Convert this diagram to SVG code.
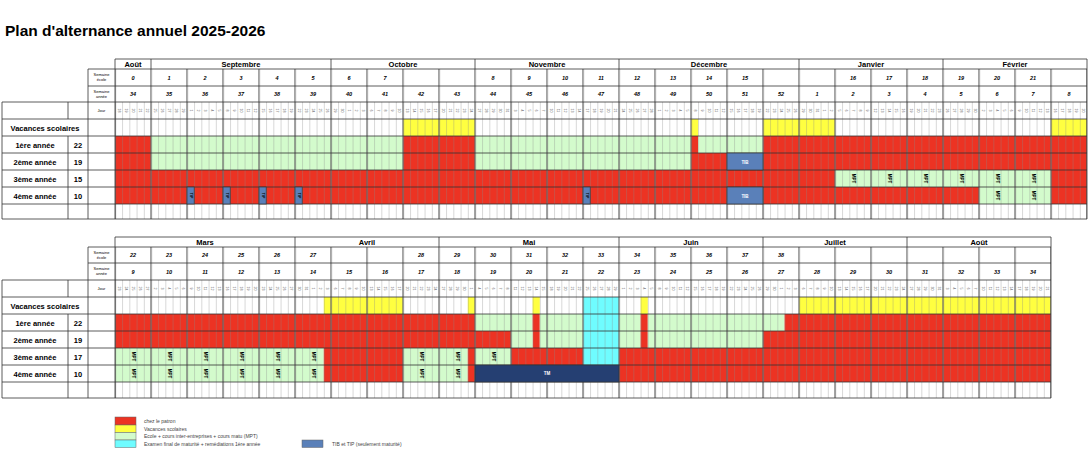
<svg xmlns="http://www.w3.org/2000/svg" width="1090" height="453" viewBox="0 0 1090 453">
<style>
text{font-family:"Liberation Sans",Arial,sans-serif;fill:#000}
.r{fill:#ec3323}.y{fill:#ffff40}.g{fill:#d3fbcc}.c{fill:#6ffcff}
.b{fill:#5a80b9;stroke:#333;stroke-width:.7}.m{fill:#253f72;stroke:#333;stroke-width:.7}
.h line,.h path{stroke:#333;stroke-width:.8;fill:none}
.d text{font-size:3.6px;text-anchor:middle;writing-mode:vertical-rl;fill:#555}
.w text{font-size:5.5px;font-style:italic;font-weight:bold;text-anchor:middle}
.mo{font-size:7.5px;font-weight:bold;text-anchor:middle}
.s{font-size:4px;text-anchor:middle}
.lb{font-size:7.5px;font-weight:bold;text-anchor:middle}
.v{font-size:4.5px;font-weight:bold;text-anchor:middle;writing-mode:vertical-rl}
.wt{font-size:4.5px;font-weight:bold;text-anchor:middle;fill:#fff}
.lg{font-size:5px;fill:#444}
</style>
<defs>
<pattern id="dl" patternUnits="userSpaceOnUse" x="115" y="0" width="7.2" height="453"><line x1="0" y1="0" x2="0" y2="453" stroke="#888" stroke-width=".7"/></pattern>
<pattern id="wl" patternUnits="userSpaceOnUse" x="114.4" y="0" width="36" height="453"><line x1=".6" y1="0" x2=".6" y2="453" stroke="#666" stroke-width="1.2"/></pattern>
</defs>
<text x="5" y="36" font-size="15.5" font-weight="bold">Plan d'alternance annuel 2025-2026</text>

<g id="top-fills">
<rect class="y" x="403" y="119" width="72" height="17"/><rect class="y" x="691" y="119" width="7.2" height="17"/><rect class="y" x="763" y="119" width="72" height="17"/><rect class="y" x="1051" y="119" width="36" height="17"/>
<rect class="r" x="115" y="136" width="36" height="17"/><rect class="g" x="151" y="136" width="252" height="17"/><rect class="r" x="403" y="136" width="72" height="17"/><rect class="g" x="475" y="136" width="216" height="17"/><rect class="r" x="691" y="136" width="7.2" height="17"/><rect class="g" x="698.2" y="136" width="64.8" height="17"/><rect class="r" x="763" y="136" width="324" height="17"/>
<rect class="r" x="115" y="153" width="36" height="17"/><rect class="g" x="151" y="153" width="252" height="17"/><rect class="r" x="403" y="153" width="72" height="17"/><rect class="g" x="475" y="153" width="216" height="17"/><rect class="r" x="691" y="153" width="396" height="17"/>
<rect class="r" x="115" y="170" width="720" height="17"/><rect class="g" x="835" y="170" width="216" height="17"/><rect class="r" x="1051" y="170" width="36" height="17"/>
<rect class="r" x="115" y="187" width="972" height="17"/><rect class="g" x="979" y="187" width="72" height="17"/>
</g>
<g id="top-grid">
<rect x="115" y="102" width="972" height="117" fill="url(#dl)"/>
<rect x="115" y="69" width="972" height="150" fill="url(#wl)"/>
<g class="h">
<path d="M115 59H1087M88 69H1087M88 86H1087M2 102H1087M2 119H1087M2 136H1087M2 153H1087M2 170H1087M2 187H1087M2 204H1087M2 219H1087"/>
<path d="M2 102V219M68 102V119M68 136V219M88 69V219M115 59V219M1087 59V219M151 59V69M331 59V69M475 59V69M619 59V69M799 59V69M943 59V69"/>
</g>
<rect class="b" x="187" y="187" width="7.2" height="17"/><rect class="b" x="223" y="187" width="7.2" height="17"/><rect class="b" x="259" y="187" width="7.2" height="17"/><rect class="b" x="295" y="187" width="7.2" height="17"/><rect class="b" x="583" y="187" width="7.2" height="17"/>
<rect class="b" x="727" y="153" width="36" height="17"/><rect class="b" x="727" y="187" width="36" height="17"/>
</g>
<g id="top-text">
<text class="mo" y="67"><tspan x="133">Août</tspan><tspan x="241">Septembre</tspan><tspan x="403">Octobre</tspan><tspan x="547">Novembre</tspan><tspan x="709">Décembre</tspan><tspan x="871">Janvier</tspan><tspan x="1015">Février</tspan></text>
<text class="s"><tspan x="101.5" y="76">Semaine</tspan><tspan x="101.5" y="81">école</tspan><tspan x="101.5" y="93">Semaine</tspan><tspan x="101.5" y="98">année</tspan><tspan x="101.5" y="112">Jour</tspan></text>
<g class="w" transform="translate(0,80)"><text x="133">0</text><text x="169">1</text><text x="205">2</text><text x="241">3</text><text x="277">4</text><text x="313">5</text><text x="349">6</text><text x="385">7</text><text x="493">8</text><text x="529">9</text><text x="565">10</text><text x="601">11</text><text x="637">12</text><text x="673">13</text><text x="709">14</text><text x="745">15</text><text x="853">16</text><text x="889">17</text><text x="925">18</text><text x="961">19</text><text x="997">20</text><text x="1033">21</text></g>
<g class="w" transform="translate(0,96)"><text x="133">34</text><text x="169">35</text><text x="205">36</text><text x="241">37</text><text x="277">38</text><text x="313">39</text><text x="349">40</text><text x="385">41</text><text x="421">42</text><text x="457">43</text><text x="493">44</text><text x="529">45</text><text x="565">46</text><text x="601">47</text><text x="637">48</text><text x="673">49</text><text x="709">50</text><text x="745">51</text><text x="781">52</text><text x="817">1</text><text x="853">2</text><text x="889">3</text><text x="925">4</text><text x="961">5</text><text x="997">6</text><text x="1033">7</text><text x="1069">8</text></g>
<g class="d" transform="translate(0,110.5)">
<text x="118.6">18</text><text x="125.8">19</text><text x="133">20</text><text x="140.2">21</text><text x="147.4">22</text>
<text x="154.6">25</text><text x="161.8">26</text><text x="169">27</text><text x="176.2">28</text><text x="183.4">29</text>
<text x="190.6">1</text><text x="197.8">2</text><text x="205">3</text><text x="212.2">4</text><text x="219.4">5</text>
<text x="226.6">8</text><text x="233.8">9</text><text x="241">10</text><text x="248.2">11</text><text x="255.4">12</text>
<text x="262.6">15</text><text x="269.8">16</text><text x="277">17</text><text x="284.2">18</text><text x="291.4">19</text>
<text x="298.6">22</text><text x="305.8">23</text><text x="313">24</text><text x="320.2">25</text><text x="327.4">26</text>
<text x="334.6">29</text><text x="341.8">30</text><text x="349">1</text><text x="356.2">2</text><text x="363.4">3</text>
<text x="370.6">6</text><text x="377.8">7</text><text x="385">8</text><text x="392.2">9</text><text x="399.4">10</text>
<text x="406.6">13</text><text x="413.8">14</text><text x="421">15</text><text x="428.2">16</text><text x="435.4">17</text>
<text x="442.6">20</text><text x="449.8">21</text><text x="457">22</text><text x="464.2">23</text><text x="471.4">24</text>
<text x="478.6">27</text><text x="485.8">28</text><text x="493">29</text><text x="500.2">30</text><text x="507.4">31</text>
<text x="514.6">3</text><text x="521.8">4</text><text x="529">5</text><text x="536.2">6</text><text x="543.4">7</text>
<text x="550.6">10</text><text x="557.8">11</text><text x="565">12</text><text x="572.2">13</text><text x="579.4">14</text>
<text x="586.6">17</text><text x="593.8">18</text><text x="601">19</text><text x="608.2">20</text><text x="615.4">21</text>
<text x="622.6">24</text><text x="629.8">25</text><text x="637">26</text><text x="644.2">27</text><text x="651.4">28</text>
<text x="658.6">1</text><text x="665.8">2</text><text x="673">3</text><text x="680.2">4</text><text x="687.4">5</text>
<text x="694.6">8</text><text x="701.8">9</text><text x="709">10</text><text x="716.2">11</text><text x="723.4">12</text>
<text x="730.6">15</text><text x="737.8">16</text><text x="745">17</text><text x="752.2">18</text><text x="759.4">19</text>
<text x="766.6">22</text><text x="773.8">23</text><text x="781">24</text><text x="788.2">25</text><text x="795.4">26</text>
<text x="802.6">29</text><text x="809.8">30</text><text x="817">31</text><text x="824.2">1</text><text x="831.4">2</text>
<text x="838.6">5</text><text x="845.8">6</text><text x="853">7</text><text x="860.2">8</text><text x="867.4">9</text>
<text x="874.6">12</text><text x="881.8">13</text><text x="889">14</text><text x="896.2">15</text><text x="903.4">16</text>
<text x="910.6">19</text><text x="917.8">20</text><text x="925">21</text><text x="932.2">22</text><text x="939.4">23</text>
<text x="946.6">26</text><text x="953.8">27</text><text x="961">28</text><text x="968.2">29</text><text x="975.4">30</text>
<text x="982.6">2</text><text x="989.8">3</text><text x="997">4</text><text x="1004.2">5</text><text x="1011.4">6</text>
<text x="1018.6">9</text><text x="1025.8">10</text><text x="1033">11</text><text x="1040.2">12</text><text x="1047.4">13</text>
<text x="1054.6">16</text><text x="1061.8">17</text><text x="1069">18</text><text x="1076.2">19</text><text x="1083.4">20</text>
</g>
<text class="lb" x="45" y="130.5">Vacances scolaires</text>
<text class="lb"><tspan x="35" y="147.5">1ère année</tspan><tspan x="35" y="164.5">2ème année</tspan><tspan x="35" y="181.5">3ème année</tspan><tspan x="35" y="198.5">4ème année</tspan><tspan x="78" y="147.5">22</tspan><tspan x="78" y="164.5">19</tspan><tspan x="78" y="181.5">15</tspan><tspan x="78" y="198.5">10</tspan></text>
<g class="v" transform="translate(0,178.5)"><text x="853">MPT</text><text x="889">MPT</text><text x="925">MPT</text><text x="961">MPT</text><text x="997">MPT</text><text x="1033">MPT</text></g>
<g class="v" transform="translate(0,195.5)"><text x="997">MPT</text><text x="1033">MPT</text></g>
<g class="v" transform="translate(0,195.5)" style="fill:#fff;font-size:3.5px"><text x="190.6" fill="#fff">TIP</text><text x="226.6" fill="#fff">TIP</text><text x="262.6" fill="#fff">TIP</text><text x="298.6" fill="#fff">TIP</text><text x="586.6" fill="#fff">TIP</text></g>
<text class="wt" x="745" y="163.5">TIB</text><text class="wt" x="745" y="197.5">TIB</text>
</g>

<g id="bottom-fills">
<rect class="y" x="323.8" y="297" width="7.2" height="17"/><rect class="y" x="331" y="297" width="72" height="17"/><rect class="y" x="467.8" y="297" width="7.2" height="17"/><rect class="y" x="532.6" y="297" width="7.2" height="17"/><rect class="c" x="583" y="297" width="36" height="68"/><rect class="y" x="640.6" y="297" width="7.2" height="17"/><rect class="y" x="799" y="297" width="252" height="17"/>
<rect class="r" x="115" y="314" width="360" height="17"/><rect class="g" x="475" y="314" width="57.6" height="17"/><rect class="r" x="532.6" y="314" width="7.2" height="34"/><rect class="g" x="539.8" y="314" width="43.2" height="34"/><rect class="g" x="619" y="314" width="21.6" height="34"/><rect class="r" x="640.6" y="314" width="7.2" height="34"/><rect class="g" x="647.8" y="314" width="136.8" height="17"/><rect class="r" x="784.6" y="314" width="266.4" height="17"/>
<rect class="r" x="115" y="331" width="396" height="17"/><rect class="g" x="511" y="331" width="21.6" height="17"/><rect class="g" x="647.8" y="331" width="115.2" height="17"/><rect class="r" x="763" y="331" width="288" height="17"/>
<rect class="g" x="115" y="348" width="208.8" height="34"/><rect class="r" x="323.8" y="348" width="79.2" height="34"/><rect class="g" x="403" y="348" width="64.8" height="34"/><rect class="r" x="467.8" y="348" width="7.2" height="34"/><rect class="g" x="475" y="348" width="36" height="17"/><rect class="r" x="511" y="348" width="72" height="17"/><rect class="r" x="619" y="348" width="432" height="34"/>
</g>
<g id="bottom-grid">
<rect x="115" y="280" width="936" height="118" fill="url(#dl)"/>
<rect x="115" y="247" width="936" height="151" fill="url(#wl)"/>
<g class="h">
<path d="M115 237H1051M88 247H1051M88 263H1051M2 280H1051M2 297H1051M2 314H1051M2 331H1051M2 348H1051M2 365H1051M2 382H1051M2 398H1051"/>
<path d="M2 280V398M68 280V297M68 314V398M88 247V398M115 237V398M1051 237V398M295 237V247M439 237V247M619 237V247M763 237V247M907 237V247"/>
</g>
<rect class="m" x="475" y="365" width="144" height="17"/>
</g>
<g id="bottom-text">
<text class="mo" y="245"><tspan x="205">Mars</tspan><tspan x="367">Avril</tspan><tspan x="529">Mai</tspan><tspan x="691">Juin</tspan><tspan x="835">Juillet</tspan><tspan x="979">Août</tspan></text>
<text class="s"><tspan x="101.5" y="254">Semaine</tspan><tspan x="101.5" y="259">école</tspan><tspan x="101.5" y="270">Semaine</tspan><tspan x="101.5" y="275">année</tspan><tspan x="101.5" y="290">Jour</tspan></text>
<g class="w" transform="translate(0,257)"><text x="133">22</text><text x="169">23</text><text x="205">24</text><text x="241">25</text><text x="277">26</text><text x="313">27</text><text x="421">28</text><text x="457">29</text><text x="493">30</text><text x="529">31</text><text x="565">32</text><text x="601">33</text><text x="637">34</text><text x="673">35</text><text x="709">36</text><text x="745">37</text><text x="781">38</text></g>
<g class="w" transform="translate(0,274)"><text x="133">9</text><text x="169">10</text><text x="205">11</text><text x="241">12</text><text x="277">13</text><text x="313">14</text><text x="349">15</text><text x="385">16</text><text x="421">17</text><text x="457">18</text><text x="493">19</text><text x="529">20</text><text x="565">21</text><text x="601">22</text><text x="637">23</text><text x="673">24</text><text x="709">25</text><text x="745">26</text><text x="781">27</text><text x="817">28</text><text x="853">29</text><text x="889">30</text><text x="925">31</text><text x="961">32</text><text x="997">33</text><text x="1033">34</text></g>
<g class="d" transform="translate(0,288.5)">
<text x="118.6">23</text><text x="125.8">24</text><text x="133">25</text><text x="140.2">26</text><text x="147.4">27</text>
<text x="154.6">2</text><text x="161.8">3</text><text x="169">4</text><text x="176.2">5</text><text x="183.4">6</text>
<text x="190.6">9</text><text x="197.8">10</text><text x="205">11</text><text x="212.2">12</text><text x="219.4">13</text>
<text x="226.6">16</text><text x="233.8">17</text><text x="241">18</text><text x="248.2">19</text><text x="255.4">20</text>
<text x="262.6">23</text><text x="269.8">24</text><text x="277">25</text><text x="284.2">26</text><text x="291.4">27</text>
<text x="298.6">30</text><text x="305.8">31</text><text x="313">1</text><text x="320.2">2</text><text x="327.4">3</text>
<text x="334.6">6</text><text x="341.8">7</text><text x="349">8</text><text x="356.2">9</text><text x="363.4">10</text>
<text x="370.6">13</text><text x="377.8">14</text><text x="385">15</text><text x="392.2">16</text><text x="399.4">17</text>
<text x="406.6">20</text><text x="413.8">21</text><text x="421">22</text><text x="428.2">23</text><text x="435.4">24</text>
<text x="442.6">27</text><text x="449.8">28</text><text x="457">29</text><text x="464.2">30</text><text x="471.4">1</text>
<text x="478.6">4</text><text x="485.8">5</text><text x="493">6</text><text x="500.2">7</text><text x="507.4">8</text>
<text x="514.6">11</text><text x="521.8">12</text><text x="529">13</text><text x="536.2">14</text><text x="543.4">15</text>
<text x="550.6">18</text><text x="557.8">19</text><text x="565">20</text><text x="572.2">21</text><text x="579.4">22</text>
<text x="586.6">25</text><text x="593.8">26</text><text x="601">27</text><text x="608.2">28</text><text x="615.4">29</text>
<text x="622.6">1</text><text x="629.8">2</text><text x="637">3</text><text x="644.2">4</text><text x="651.4">5</text>
<text x="658.6">8</text><text x="665.8">9</text><text x="673">10</text><text x="680.2">11</text><text x="687.4">12</text>
<text x="694.6">15</text><text x="701.8">16</text><text x="709">17</text><text x="716.2">18</text><text x="723.4">19</text>
<text x="730.6">22</text><text x="737.8">23</text><text x="745">24</text><text x="752.2">25</text><text x="759.4">26</text>
<text x="766.6">29</text><text x="773.8">30</text><text x="781">1</text><text x="788.2">2</text><text x="795.4">3</text>
<text x="802.6">6</text><text x="809.8">7</text><text x="817">8</text><text x="824.2">9</text><text x="831.4">10</text>
<text x="838.6">13</text><text x="845.8">14</text><text x="853">15</text><text x="860.2">16</text><text x="867.4">17</text>
<text x="874.6">20</text><text x="881.8">21</text><text x="889">22</text><text x="896.2">23</text><text x="903.4">24</text>
<text x="910.6">27</text><text x="917.8">28</text><text x="925">29</text><text x="932.2">30</text><text x="939.4">31</text>
<text x="946.6">3</text><text x="953.8">4</text><text x="961">5</text><text x="968.2">6</text><text x="975.4">7</text>
<text x="982.6">10</text><text x="989.8">11</text><text x="997">12</text><text x="1004.2">13</text><text x="1011.4">14</text>
<text x="1018.6">17</text><text x="1025.8">18</text><text x="1033">19</text><text x="1040.2">20</text><text x="1047.4">21</text>
</g>
<text class="lb" x="45" y="308.5">Vacances scolaires</text>
<text class="lb"><tspan x="35" y="325.5">1ère année</tspan><tspan x="35" y="342.5">2ème année</tspan><tspan x="35" y="359.5">3ème année</tspan><tspan x="35" y="376.5">4ème année</tspan><tspan x="78" y="325.5">22</tspan><tspan x="78" y="342.5">19</tspan><tspan x="78" y="359.5">17</tspan><tspan x="78" y="376.5">10</tspan></text>
<g class="v" transform="translate(0,356.5)"><text x="133">MPT</text><text x="169">MPT</text><text x="205">MPT</text><text x="241">MPT</text><text x="277">MPT</text><text x="313">MPT</text><text x="421">MPT</text><text x="457">MPT</text><text x="493">MPT</text></g>
<g class="v" transform="translate(0,373.5)"><text x="133">MPT</text><text x="169">MPT</text><text x="205">MPT</text><text x="241">MPT</text><text x="277">MPT</text><text x="313">MPT</text><text x="421">MPT</text><text x="457">MPT</text></g>
<text class="wt" x="547" y="375">TM</text>
</g>

<g id="legend">
<rect class="r" x="115" y="417" width="21" height="8" stroke="#666" stroke-width=".5"/>
<rect class="y" x="115" y="425" width="21" height="7.5" stroke="#666" stroke-width=".5"/>
<rect class="g" x="115" y="432.5" width="21" height="7.5" stroke="#666" stroke-width=".5"/>
<rect class="c" x="115" y="440" width="21" height="7.5" stroke="#666" stroke-width=".5"/>
<rect x="302" y="440" width="21" height="7.5" fill="#5a80b9" stroke="#666" stroke-width=".5"/>
<text class="lg"><tspan x="144" y="423">chez le patron</tspan><tspan x="144" y="430.5">Vacances scolaires</tspan><tspan x="144" y="438">Ecole + cours inter-entreprises + cours matu (MPT)</tspan><tspan x="144" y="445.5">Examen final de maturité + remédiations 1ère année</tspan><tspan x="332" y="445.5">TIB et TIP (seulement maturité)</tspan></text>
</g>
</svg>
